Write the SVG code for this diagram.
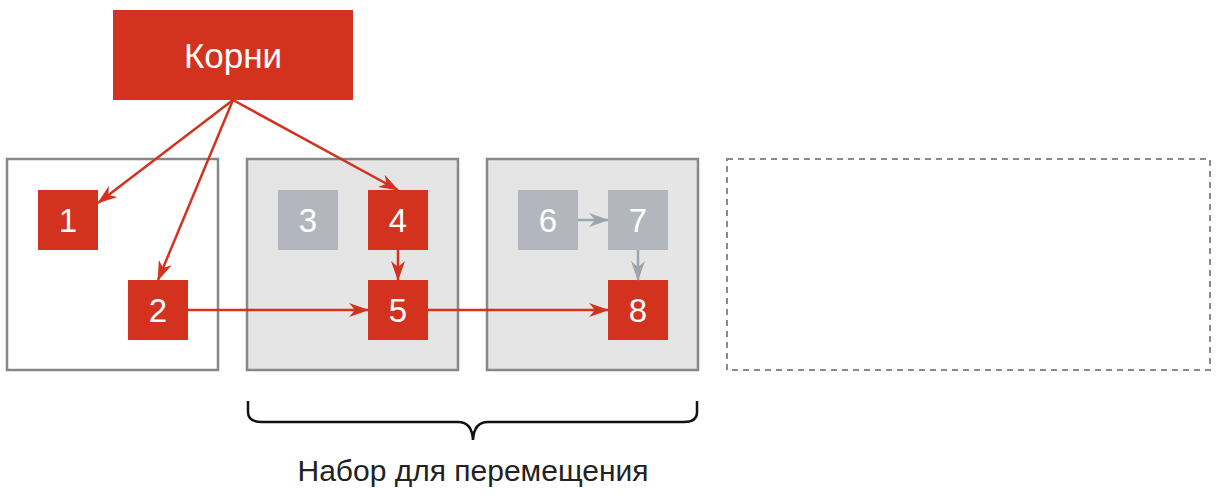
<svg xmlns="http://www.w3.org/2000/svg" width="1218" height="498" viewBox="0 0 1218 498">
<style>
.region{fill:none;stroke:#878787;stroke-width:2.5}
.heap{fill:#e5e5e5;stroke:#878787;stroke-width:2.5}
.empty{fill:none;stroke:#8a8a8a;stroke-width:2;stroke-dasharray:6 5}
.live{fill:#d3321f}
.dead{fill:#b3b7bd}
.lbl{font-family:"Liberation Sans",Arial,sans-serif;font-size:33px;fill:#fff;text-anchor:middle}
.big{font-size:35px}
.edge{fill:none;stroke:#d3321f;stroke-width:2.5}
.gedge{fill:none;stroke:#9ca4ae;stroke-width:2.5}
.cap{font-family:"Liberation Sans",Arial,sans-serif;font-size:30px;fill:#222;text-anchor:middle}
</style>
<defs>
<marker id="ar" viewBox="0 0 20 14" refX="19" refY="7" markerWidth="20" markerHeight="14" markerUnits="userSpaceOnUse" orient="auto">
<path d="M0,0 L20,7 L0,14 L6,7 Z" fill="#d3321f"/>
</marker>
<marker id="ag" viewBox="0 0 20 14" refX="19" refY="7" markerWidth="20" markerHeight="14" markerUnits="userSpaceOnUse" orient="auto">
<path d="M0,0 L20,7 L0,14 L6,7 Z" fill="#9ca4ae"/>
</marker>
</defs>
<g id="regions">
<rect id="region-a" class="region" x="7" y="159" width="211" height="211"/>
<rect id="region-b" class="heap" x="247" y="159" width="211" height="211"/>
<rect id="region-c" class="heap" x="487" y="159" width="211" height="211"/>
<rect id="region-d" class="empty" x="727" y="159" width="483" height="211"/>
</g>
<g id="roots"><rect class="live" x="113" y="10" width="240" height="90"/><text class="lbl big" x="233" y="68">Корни</text></g>
<g id="n1"><rect class="live" x="38" y="190" width="60" height="60"/><text class="lbl" x="68" y="232">1</text></g>
<g id="n2"><rect class="live" x="128" y="280" width="60" height="60"/><text class="lbl" x="158" y="322">2</text></g>
<g id="n3"><rect class="dead" x="278" y="190" width="60" height="60"/><text class="lbl" x="308" y="232">3</text></g>
<g id="n4"><rect class="live" x="368" y="190" width="60" height="60"/><text class="lbl" x="398" y="232">4</text></g>
<g id="n5"><rect class="live" x="368" y="280" width="60" height="60"/><text class="lbl" x="398" y="322">5</text></g>
<g id="n6"><rect class="dead" x="518" y="190" width="60" height="60"/><text class="lbl" x="548" y="232">6</text></g>
<g id="n7"><rect class="dead" x="608" y="190" width="60" height="60"/><text class="lbl" x="638" y="232">7</text></g>
<g id="n8"><rect class="live" x="608" y="280" width="60" height="60"/><text class="lbl" x="638" y="322">8</text></g>
<g id="connectors">
<line class="edge" x1="233" y1="100" x2="98" y2="203" marker-end="url(#ar)"/>
<line class="edge" x1="233" y1="100" x2="158" y2="280" marker-end="url(#ar)"/>
<line class="edge" x1="233" y1="100" x2="398" y2="190" marker-end="url(#ar)"/>
<line class="edge" x1="398" y1="250" x2="398" y2="280" marker-end="url(#ar)"/>
<line class="edge" x1="188" y1="310" x2="368" y2="310" marker-end="url(#ar)"/>
<line class="edge" x1="428" y1="310" x2="608" y2="310" marker-end="url(#ar)"/>
<line class="gedge" x1="578" y1="220" x2="608" y2="220" marker-end="url(#ag)"/>
<line class="gedge" x1="638" y1="250" x2="638" y2="280" marker-end="url(#ag)"/>
</g>
<g id="brace">
<path d="M248,401 L248,412 Q248,422 262,422 L458,422 Q472,422 473,440 Q474,422 488,422 L684,422 Q697,422 697,412 L697,401" fill="none" stroke="#111" stroke-width="2.5"/>
<text class="cap" x="473" y="481">Набор для перемещения</text>
</g>
</svg>
